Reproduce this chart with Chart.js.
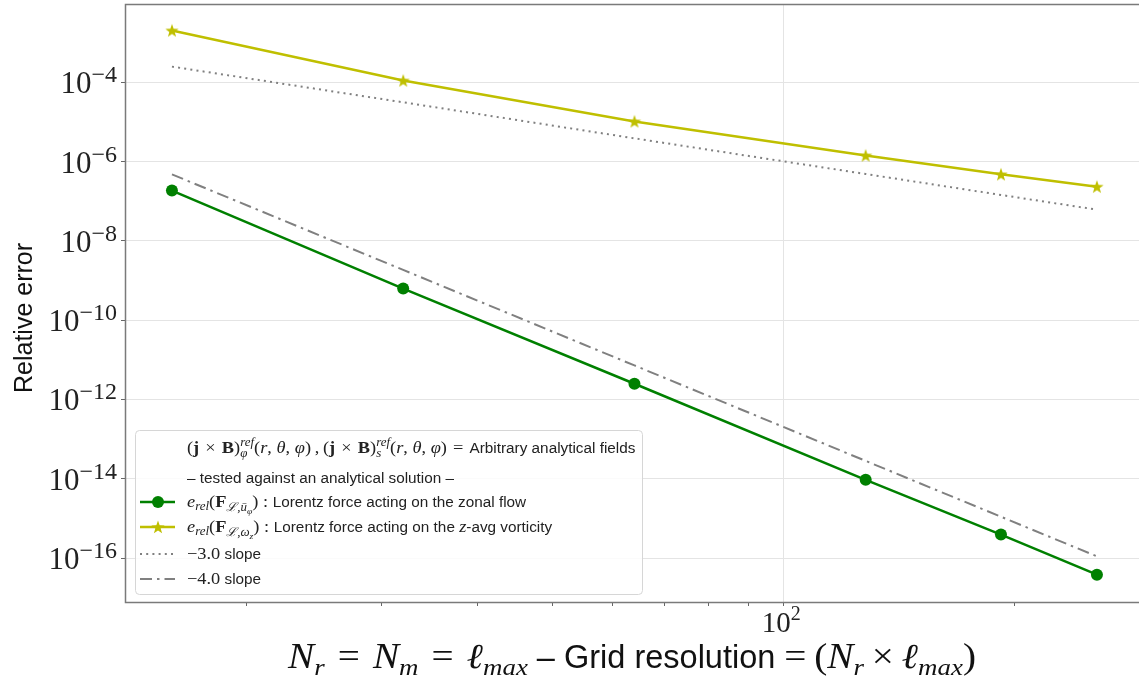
<!DOCTYPE html>
<html>
<head>
<meta charset="utf-8">
<script src="https://cdn.jsdelivr.net/npm/chart.js@4.4.1/dist/chart.umd.min.js"></script>
<style>
  html, body { margin: 0; padding: 0; background: #fff; }
  canvas { display: block; }
</style>
</head>
<body>
<canvas id="c" width="1139" height="680"></canvas>
<script>
// Grid resolutions N_r = N_m = l_max
const resolutions = [16, 32, 64, 128, 192, 256];
// Relative error of the Lorentz force acting on the zonal flow
const errZonalFlow = [1.87e-7, 6.3e-10, 2.5e-12, 9.4e-15, 3.9e-16, 3.8e-17];
// Relative error of the Lorentz force acting on the z-avg vorticity
const errVorticity = [2.05e-3, 1.12e-4, 1.04e-5, 1.44e-6, 4.8e-7, 2.35e-7];
// Reference slopes
const slope3Ref = [2.51e-4, 3.16e-5, 3.89e-6, 4.90e-7, 1.45e-7, 6.17e-8];
const slope4Ref = [4.8e-7, 1.86e-9, 7.24e-12, 2.82e-14, 1.10e-15, 1.10e-16];
// Axis ticks
const yTickExponents = [-16, -14, -12, -10, -8, -6, -4];
const xTickValues = [20, 30, 40, 50, 60, 70, 80, 90, 100, 200];
const xLabelledExponents = [2];

const GREEN = '#008000';
const OLIVE = '#bfbf00';
const GREY = '#808080';
const SERIF = '"Liberation Serif","DejaVu Serif",serif';
const SANS = '"Liberation Sans","DejaVu Sans",sans-serif';

const pts = ys => resolutions.map((x, i) => ({ x, y: ys[i] }));

// filled five-pointed star used as point marker
const starMarker = (() => {
  const s = 16, c = document.createElement('canvas');
  c.width = c.height = s;
  const g = c.getContext('2d');
  const R = 7, r = 2.8, cx = s / 2, cy = s / 2 + 0.6;
  g.beginPath();
  for (let k = 0; k < 10; k++) {
    const a = -Math.PI / 2 + k * Math.PI / 5;
    const rad = k % 2 === 0 ? R : r;
    const px = cx + rad * Math.cos(a), py = cy + rad * Math.sin(a);
    k === 0 ? g.moveTo(px, py) : g.lineTo(px, py);
  }
  g.closePath();
  g.fillStyle = OLIVE;
  g.fill();
  return c;
})();

// ---- rich text helpers (sub/superscripts, math-like horizontal stretch) ----
const fnt = (style, size, fam) => `${style} ${size}px ${fam}`;
const rm = (t, s) => ({ t, f: fnt('normal', s, SERIF) });
const it = (t, s) => ({ t, f: fnt('italic', s, SERIF) });
const bf = (t, s) => ({ t, f: fnt('bold', s, SERIF) });
const sf = (t, s) => ({ t, f: fnt('normal', s, SANS), sans: true });
const sh = (seg, dy) => Object.assign({}, seg, { dy });
const mathify = (segs, sx) => segs.map(s => s.stack
  ? { stack: s.stack.map(p => Object.assign({}, p, { sx })) }
  : (s.sans ? s : Object.assign({}, s, { sx })));

function drawPiece(ctx, p, x, y, measureOnly) {
  ctx.font = p.f;
  const sx = p.sx || 1;
  const w = ctx.measureText(p.t).width * sx;
  if (!measureOnly) {
    ctx.save();
    ctx.translate(x, y + (p.dy || 0));
    ctx.scale(sx, 1);
    ctx.fillText(p.t, 0, 0);
    ctx.restore();
  }
  return w;
}

function drawRich(ctx, x, y, segs, measureOnly) {
  let cx = x;
  for (const s of segs) {
    if (s.stack) {
      let w = 0;
      for (const p of s.stack) w = Math.max(w, drawPiece(ctx, p, cx, y, measureOnly));
      cx += w;
    } else {
      cx += drawPiece(ctx, s, cx, y, measureOnly);
    }
  }
  return cx - x;
}

const L = 17, LS = 12, LSS = 9, LT = 15.3, LSX = 1.08;
const sp = '\u2004', thin = '\u2009';
const fieldArgs = [rm('(', L), it('r', L), rm(', ', L), it('θ', L), rm(', ', L), it('φ', L), rm(')', L)];
const jxB = [rm('(', L), bf('j', L), rm(sp + '×' + sp, L), bf('B', L), rm(')', L)];
const legendRows = [
  { handle: null, segs: [...jxB, { stack: [sh(it('ref', LS), -7), sh(it('φ', LS), 4)] }, ...fieldArgs, rm(thin + ',' + thin, L),
      ...jxB, { stack: [sh(it('ref', LS), -7), sh(it('s', LS), 4)] }, ...fieldArgs, rm(sp + '=' + sp, L), sf('Arbitrary analytical fields', LT)] },
  { handle: null, segs: [sf('– tested against an analytical solution –', LT)] },
  { handle: 0, segs: [it('e', L), sh(it('rel', LS), 3), rm('(', L), bf('F', L), sh(it('ℒ', LS), 4), sh(rm(',', LS), 4),
      sh(it('ū', LS), 4), sh(it('φ', LSS), 7), rm(')', L), rm(' : ', L), sf('Lorentz force acting on the zonal flow', LT)] },
  { handle: 1, segs: [it('e', L), sh(it('rel', LS), 3), rm('(', L), bf('F', L), sh(it('ℒ', LS), 4), sh(rm(',', LS), 4),
      sh(it('ω', LS), 4), sh(it('z', LSS), 7), rm(')', L), rm(' : ', L), sf('Lorentz force acting on the ', LT), it('z', L), sf('-avg vorticity', LT)] },
  { handle: 2, segs: [rm('−3.0', L), sf(' slope', LT)] },
  { handle: 3, segs: [rm('−4.0', L), sf(' slope', LT)] }
].map(r => ({ handle: r.handle, segs: mathify(r.segs, LSX) }));

const X = 35, XS = 24, XT = 32.5;
const xTitle = mathify([it('N', X), sh(it('r', XS), 7), rm(sp + '=' + sp, X), it('N', X), sh(it('m', XS), 7), rm(sp + '=' + sp, X), it('ℓ', X), sh(it('max', XS), 7),
  sf(' – Grid resolution ', XT), rm('=' + thin + '(', X), it('N', X), sh(it('r', XS), 7), rm(thin + '×' + thin, X), it('ℓ', X), sh(it('max', XS), 7), rm(')', X)], 1.12);

const decorations = {
  id: 'decorations',
  afterDraw(chart) {
    const { ctx, chartArea: a, scales } = chart;
    const xs = scales.x, ys = scales.y;
    ctx.save();

    // plot frame (right edge falls just past the canvas)
    ctx.strokeStyle = '#7a7a7a';
    ctx.lineWidth = 1.5;
    ctx.strokeRect(a.left + 0.5, a.top + 0.5, a.right - a.left + 2, a.bottom - a.top);

    // y tick labels 10^n
    ctx.fillStyle = '#222';
    ctx.textBaseline = 'alphabetic';
    ctx.textAlign = 'left';
    for (const e of yTickExponents) {
      const py = ys.getPixelForValue(Math.pow(10, e));
      const base = [rm('10', 31)];
      const sup = [rm('−' + Math.abs(e), 24)];
      const w = drawRich(ctx, 0, 0, base, true) + drawRich(ctx, 0, 0, sup, true);
      const x0 = 117 - w;
      const w10 = drawRich(ctx, x0, py + 11, base);
      drawRich(ctx, x0 + w10, py, sup);
    }
    // x tick labels
    for (const e of xLabelledExponents) {
      const px = xs.getPixelForValue(Math.pow(10, e));
      const base = [rm('10', 29)], sup = [rm(String(e), 20)];
      const w = drawRich(ctx, 0, 0, base, true) + drawRich(ctx, 0, 0, sup, true);
      const x0 = px - w / 2 - 2;
      const w10 = drawRich(ctx, x0, 632, base);
      drawRich(ctx, x0 + w10, 620, sup);
    }

    // axis titles
    ctx.save();
    ctx.translate(32, 318);
    ctx.rotate(-Math.PI / 2);
    ctx.textAlign = 'center';
    ctx.font = fnt('normal', 25, SANS);
    ctx.fillStyle = '#111';
    ctx.fillText('Relative error', 0, 0);
    ctx.restore();

    ctx.fillStyle = '#111';
    const tw = drawRich(ctx, 0, 0, xTitle, true);
    drawRich(ctx, (a.left + a.right) / 2 - tw / 2, 668, xTitle);

    // legend
    const bx = 135, by = 430, bw = 507, bh = 164;
    ctx.beginPath();
    ctx.roundRect(bx + 0.5, by + 0.5, bw, bh, 4);
    ctx.fillStyle = 'rgba(255,255,255,0.85)';
    ctx.fill();
    ctx.strokeStyle = '#d6d6d6';
    ctx.lineWidth = 1;
    ctx.stroke();

    const rowY = [448, 478, 502, 527, 554, 579];
    legendRows.forEach((row, i) => {
      const cy = rowY[i];
      if (row.handle !== null) {
        const ds = chart.data.datasets[row.handle];
        ctx.save();
        ctx.strokeStyle = ds.borderColor;
        ctx.lineWidth = ds.borderWidth;
        ctx.setLineDash(ds.borderDash || []);
        ctx.beginPath();
        ctx.moveTo(140, cy);
        ctx.lineTo(175, cy);
        ctx.stroke();
        ctx.setLineDash([]);
        if (ds.pointRadius > 0) {
          if (ds.pointStyle === 'circle') {
            ctx.beginPath();
            ctx.arc(158, cy, ds.pointRadius, 0, Math.PI * 2);
            ctx.fillStyle = ds.backgroundColor;
            ctx.fill();
          } else {
            ctx.drawImage(ds.pointStyle, 158 - ds.pointStyle.width / 2, cy - ds.pointStyle.height / 2);
          }
        }
        ctx.restore();
      }
      ctx.fillStyle = '#222';
      drawRich(ctx, 187, cy + 5, row.segs);
    });

    ctx.restore();
  }
};

new Chart(document.getElementById('c'), {
  type: 'line',
  data: {
    datasets: [
      { label: 'zonal flow', data: pts(errZonalFlow), borderColor: GREEN, backgroundColor: GREEN,
        borderWidth: 2.5, pointStyle: 'circle', pointRadius: 6, pointBorderWidth: 0, pointBackgroundColor: GREEN },
      { label: 'z-avg vorticity', data: pts(errVorticity), borderColor: OLIVE, backgroundColor: OLIVE,
        borderWidth: 2.5, pointStyle: starMarker, pointRadius: 7 },
      { label: '-3.0 slope', data: pts(slope3Ref), borderColor: GREY, borderWidth: 2,
        borderDash: [2, 4.2], pointRadius: 0 },
      { label: '-4.0 slope', data: pts(slope4Ref), borderColor: GREY, borderWidth: 2,
        borderDash: [12, 5, 2.5, 5], pointRadius: 0 }
    ]
  },
  options: {
    responsive: false,
    animation: false,
    devicePixelRatio: 1,
    events: [],
    layout: { autoPadding: false, padding: { left: 0, top: 4, right: 0, bottom: 0 } },
    plugins: { legend: { display: false }, tooltip: { enabled: false } },
    scales: {
      x: {
        type: 'logarithmic',
        min: 13.9,
        max: 290.4,
        afterBuildTicks: s => { s.ticks = xTickValues.map(v => ({ value: v })); },
        afterFit: s => { s.height = 78; },
        ticks: { display: false, autoSkip: false },
        border: { display: false },
        grid: {
          color: c => (c.tick && c.tick.value === 100) ? '#e4e4e4' : 'rgba(0,0,0,0)',
          tickColor: '#666',
          tickLength: 4,
          lineWidth: 1
        }
      },
      y: {
        type: 'logarithmic',
        min: Math.pow(10, -17.11),
        max: Math.pow(10, -2.02),
        afterBuildTicks: s => { s.ticks = yTickExponents.map(e => ({ value: Math.pow(10, e) })); },
        afterFit: s => { s.width = 125; },
        ticks: { display: false, autoSkip: false },
        border: { display: false },
        grid: { color: '#e4e4e4', tickColor: '#666', tickLength: 4, lineWidth: 1 }
      }
    }
  },
  plugins: [decorations]
});
</script>
</body>
</html>
